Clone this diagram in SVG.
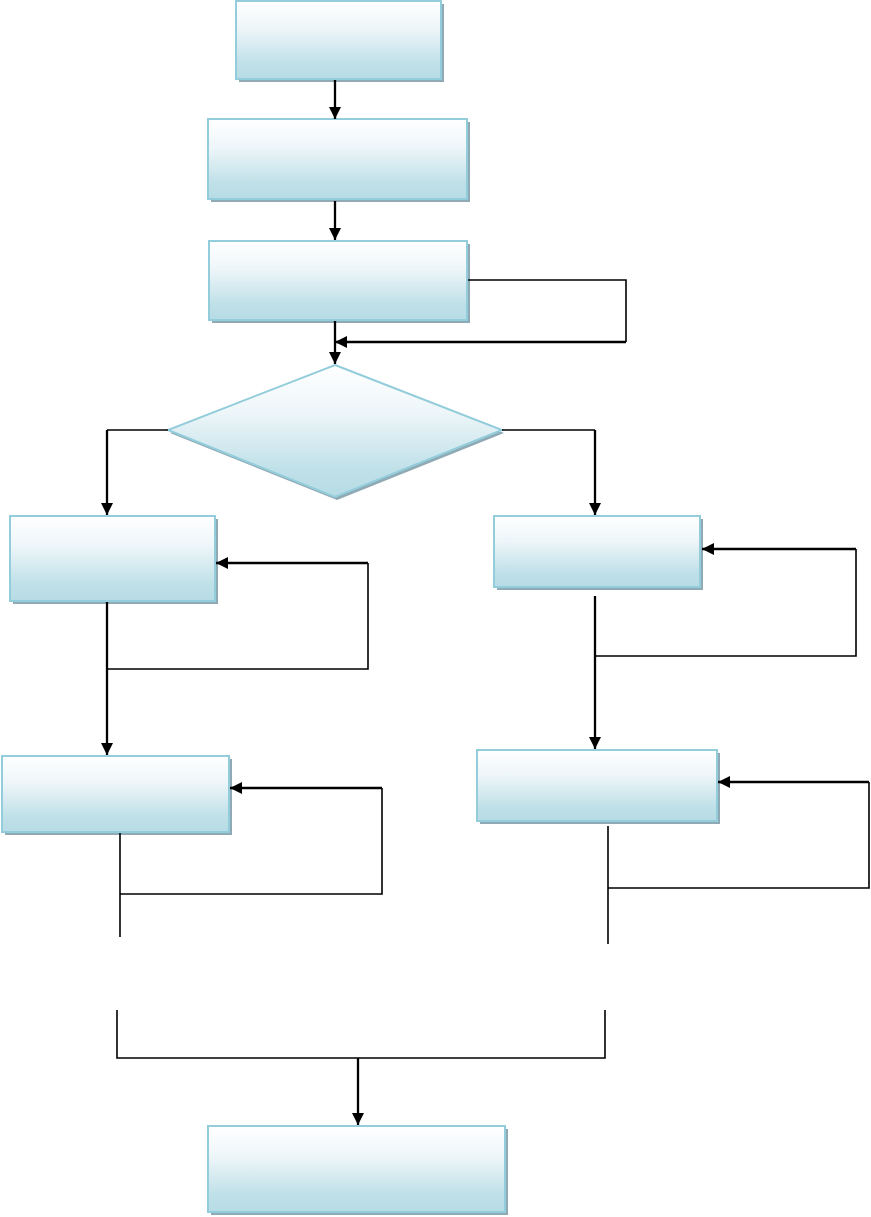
<svg xmlns="http://www.w3.org/2000/svg" width="871" height="1217" viewBox="0 0 871 1217">
<style>
.box{fill:url(#g);stroke:#93cddb;stroke-width:2}
.sh{fill:#8faab4}
.ln{fill:none;stroke:#000;stroke-width:1.6}
.ar{fill:none;stroke:#000;stroke-width:2.3;marker-end:url(#a)}
</style>
<defs>
<linearGradient id="g" x1="0" y1="0" x2="0" y2="1">
<stop offset="0" stop-color="#ffffff"/>
<stop offset="0.35" stop-color="#eef6f9"/>
<stop offset="0.8" stop-color="#bfe0e8"/>
<stop offset="1" stop-color="#b7dce5"/>
</linearGradient>
<marker id="a" viewBox="0 0 10 10" refX="10" refY="5" markerWidth="13" markerHeight="12" orient="auto" markerUnits="userSpaceOnUse">
<path d="M0,0 L10,5 L0,10 Z" fill="#000"/>
</marker>
</defs>
<rect width="871" height="1217" fill="#fff"/>
<g id="n1"><rect class="sh" x="239" y="4" width="205" height="78"/><rect class="box" x="236" y="1" width="205" height="78"/></g>
<g id="n2"><rect class="sh" x="211" y="122" width="259" height="80"/><rect class="box" x="208" y="119" width="259" height="80"/></g>
<g id="n3"><rect class="sh" x="212" y="244" width="258" height="79"/><rect class="box" x="209" y="241" width="258" height="79"/></g>
<g id="d1"><polygon class="sh" points="337,368 504,433 337,500 170,433"/><polygon class="box" points="335,365 502,430 335,497 168,430"/></g>
<g id="l1"><rect class="sh" x="13" y="519" width="205" height="85"/><rect class="box" x="10" y="516" width="205" height="85"/></g>
<g id="r1"><rect class="sh" x="497" y="519" width="206" height="71"/><rect class="box" x="494" y="516" width="206" height="71"/></g>
<g id="l2"><rect class="sh" x="5" y="759" width="227" height="76"/><rect class="box" x="2" y="756" width="227" height="76"/></g>
<g id="r2"><rect class="sh" x="480" y="753" width="240" height="71"/><rect class="box" x="477" y="750" width="240" height="71"/></g>
<g id="n4"><rect class="sh" x="211" y="1129" width="297" height="86"/><rect class="box" x="208" y="1126" width="297" height="86"/></g>
<g id="connectors">
<path class="ar" d="M335,80 V119"/>
<path class="ar" d="M335,201 V240"/>
<path class="ln" d="M468,280 H626 V342"/>
<path class="ar" d="M626,342 H335"/>
<path class="ar" d="M335,321 V364"/>
<path class="ln" d="M168,430 H107"/>
<path class="ar" d="M107,430 V515"/>
<path class="ln" d="M502,430 H595"/>
<path class="ar" d="M595,430 V515"/>
<path class="ln" d="M107,669 H368 V563"/>
<path class="ar" d="M368,563 H216"/>
<path class="ar" d="M107,602 V755"/>
<path class="ln" d="M595,656 H856 V549"/>
<path class="ar" d="M856,549 H702"/>
<path class="ar" d="M595,596 V749"/>
<path class="ln" d="M120,894 H382 V788"/>
<path class="ar" d="M382,788 H230"/>
<path class="ln" d="M120,833 V937"/>
<path class="ln" d="M608,888 H869 V782"/>
<path class="ar" d="M869,782 H718"/>
<path class="ln" d="M608,826 V944"/>
<path class="ln" d="M117,1010 V1058 H605 V1010"/>
<path class="ar" d="M358,1058 V1125"/>
</g>
</svg>
